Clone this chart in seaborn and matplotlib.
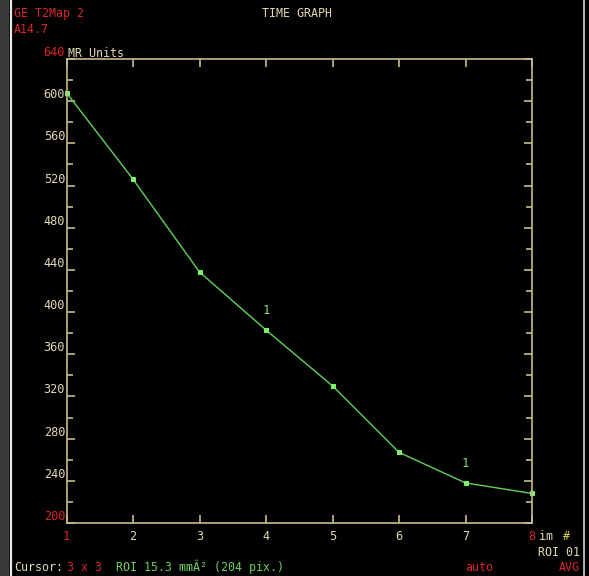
import matplotlib
matplotlib.use("Agg")
import matplotlib.pyplot as plt
import seaborn as sns
import pandas as pd
from matplotlib.patches import Rectangle
from matplotlib.lines import Line2D

# ---- data ----
image_numbers = [1, 2, 3, 4, 5, 6, 7, 8]
mr_units = [608, 526, 438, 383, 330, 267, 238, 228]
y_ticks = [200, 240, 280, 320, 360, 400, 440, 480, 520, 560, 600, 640]
x_ticks = [1, 2, 3, 4, 5, 6, 7, 8]
label_points = [4, 7]  # image numbers carrying a "1" label

sns.set_style("dark")
plt.rcParams["font.family"] = ["DejaVu Sans Mono", "DejaVu Sans"]

BEIGE = "#e2d8b4"
SPINE = "#c9b98c"
RED = "#d8262b"
GREEN = "#5fd35a"
PGREEN = "#7cf06a"

W, H = 589, 576
fig = plt.figure(figsize=(W / 100, H / 100), dpi=100, facecolor="black")

# decorative frame pieces (left image strip, white separators)
fig.add_artist(Rectangle((0, 0), 9 / W, 1, transform=fig.transFigure,
                         facecolor="#3a3a3a", edgecolor="none"))
fig.add_artist(Line2D([10.5 / W, 10.5 / W], [0, 1], transform=fig.transFigure,
                      color="#e8e8e8", lw=1.6))
fig.add_artist(Line2D([584 / W, 584 / W], [0, 1], transform=fig.transFigure,
                      color="#d0d0d0", lw=1.2))

left, right, top, bottom = 66.5, 532, 59, 523
ax = fig.add_axes([left / W, 1 - bottom / H, (right - left) / W, (bottom - top) / H])
ax.set_facecolor("black")

df = pd.DataFrame({"im": image_numbers, "mr": mr_units})
sns.lineplot(data=df, x="im", y="mr", ax=ax, color=GREEN, lw=1.0,
             marker="s", markersize=2.6, markerfacecolor=PGREEN,
             markeredgecolor=PGREEN, clip_on=False)

for p in label_points:
    v = mr_units[image_numbers.index(p)]
    ax.text(p, v + 12, "1", color="#8fe07a", fontsize=8.6, ha="center", va="bottom")

ax.set_xlim(1, 8)
ax.set_ylim(200, 640)
ax.set_xlabel("")
ax.set_ylabel("")
ax.grid(False)

for s in ax.spines.values():
    s.set_visible(True)
    s.set_color(SPINE)
    s.set_linewidth(1.2)

ax.set_yticks(y_ticks)
ax.set_yticks([v + 20 for v in y_ticks[:-1]], minor=True)
ax.set_xticks(x_ticks)
ax.set_yticklabels([str(v) for v in y_ticks])
ax.set_xticklabels([str(v) for v in x_ticks])

ax.tick_params(axis="y", which="major", direction="in", length=6, width=1.2,
               color=SPINE, left=True, right=True, labelcolor=BEIGE,
               labelsize=8.6, pad=1)
ax.tick_params(axis="y", which="minor", direction="in", length=4, width=1.2,
               color=SPINE, left=True, right=True)
ax.tick_params(axis="x", which="major", direction="in", length=6, width=1.2,
               color=SPINE, bottom=True, top=True, labelcolor=BEIGE,
               labelsize=8.6, pad=5)

for lab in ax.get_yticklabels():
    lab.set_va("bottom")
    if lab.get_text() in ("640", "200"):
        lab.set_color(RED)
for lab in ax.get_xticklabels():
    if lab.get_text() in ("1", "8"):
        lab.set_color(RED)

fs = 8.4
def ftext(x, y, s, color, ha="left", **kw):
    fig.text(x / W, 1 - y / H, s, color=color, fontsize=fs, ha=ha, va="baseline", **kw)

ftext(14, 17, "GE T2Map 2", RED)
ftext(14, 33, "A14.7", RED)
ftext(297, 17, "TIME GRAPH", BEIGE, ha="center")
ftext(68, 57, "MR Units", BEIGE)
ftext(539, 540, "im ", BEIGE)
ftext(563, 540, "#", "#e8d040")
ftext(580, 556, "ROI 01", BEIGE, ha="right")
ftext(14, 571, "Cursor:", BEIGE)
ftext(67, 571, "3 x 3", RED)
ftext(116, 571, "ROI 15.3 mmÂ² (204 pix.)", "#6fd060")
ftext(479, 571, "auto", RED, ha="center")
ftext(580, 571, "AVG", RED, ha="right")

fig.savefig("out.png", dpi=100, facecolor="black")
